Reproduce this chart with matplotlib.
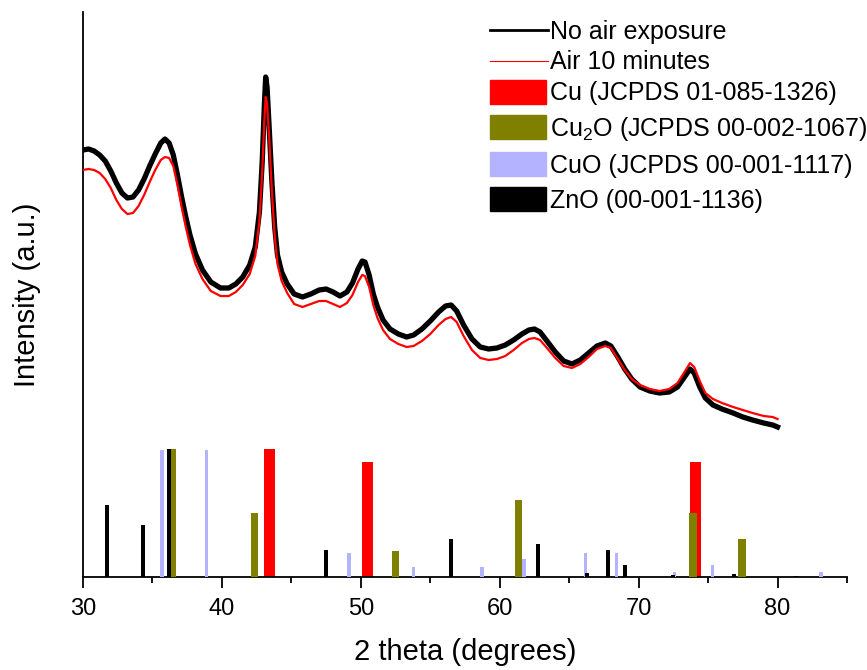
import matplotlib
matplotlib.use("Agg")
import matplotlib.pyplot as plt
from matplotlib.lines import Line2D
from matplotlib.patches import Patch
from matplotlib.ticker import MultipleLocator

plt.rcParams['font.family'] = ['Liberation Sans', 'DejaVu Sans']
plt.rcParams['mathtext.fontset'] = 'custom'
plt.rcParams['mathtext.rm'] = 'Liberation Sans'
plt.rcParams['mathtext.it'] = 'Liberation Sans:italic'
plt.rcParams['mathtext.default'] = 'regular'

# ---- XRD patterns ----
two_theta = [30.0, 30.4, 30.8, 31.2, 31.6, 32.0, 32.4, 32.8, 33.2, 33.6, 34.0, 34.4,
             34.8, 35.2, 35.6, 35.9, 36.2, 36.5, 36.8, 37.1, 37.4, 37.7, 38.1, 38.6,
             39.2, 39.9, 40.5, 41.0, 41.5, 42.0, 42.4, 42.7, 42.9, 43.05, 43.15, 43.25,
             43.4, 43.6, 43.8, 44.0, 44.3, 44.7, 45.2, 45.8, 46.4, 47.0, 47.5, 48.0,
             48.5, 49.0, 49.4, 49.8, 50.1, 50.3, 50.6, 50.9, 51.2, 51.6, 52.1, 52.7,
             53.3, 53.8, 54.4, 55.0, 55.6, 56.1, 56.5, 56.9, 57.4, 58.0, 58.6, 59.2,
             59.8, 60.4, 61.0, 61.6, 62.1, 62.5, 62.9, 63.4, 64.0, 64.6, 65.2, 65.8,
             66.4, 67.0, 67.6, 68.0, 68.5, 69.0, 69.5, 70.1, 70.8, 71.5, 72.2, 72.8,
             73.3, 73.7, 74.0, 74.4, 74.8, 75.35, 76.0, 76.8, 77.5, 78.2, 79.0, 79.65,
             80.0]
no_air = [427, 428, 426, 422, 416, 406, 394, 384, 379, 380, 387, 398,
          411, 423, 434, 438, 434, 422, 402, 380, 360, 342, 323, 307,
          295, 289, 289, 293, 300, 312, 330, 365, 415, 470, 500, 490,
          450, 395, 350, 322, 305, 293, 283, 280, 283, 287, 288, 285,
          281, 285, 294, 308, 316, 315, 302, 283, 270, 257, 248, 243,
          240, 242, 248, 256, 265, 271, 272, 266, 252, 238, 230, 228,
          229, 232, 237, 243, 247, 248, 245, 236, 225, 216, 213, 217,
          224, 231, 234, 231, 220, 208, 198, 190, 186, 184, 185, 190,
          200, 208, 204, 190, 179, 172, 168, 164, 160, 157, 154, 152,
          150]
air_10min = [407, 408, 407, 404, 398, 389, 377, 368, 363, 364, 371, 382,
             395, 407, 417, 420, 419, 411, 392, 370, 350, 332, 313, 298,
             286, 281, 281, 285, 292, 303, 321, 356, 405, 455, 480, 474,
             440, 385, 341, 313, 296, 284, 273, 270, 273, 276, 276, 273,
             270, 274, 282, 295, 302, 301, 290, 272, 259, 247, 238, 233,
             230, 231, 236, 243, 252, 258, 260, 255, 241, 227, 219, 217,
             218, 221, 227, 234, 238, 239, 237, 229, 219, 211, 209, 213,
             220, 228, 231, 229, 218, 207, 198, 192, 188, 186, 188, 194,
             205, 214, 210, 196, 184, 178, 174, 170, 167, 164, 161, 160,
             158]

# ---- Reference patterns (position, relative intensity %) ----
cu_pos = [43.45, 50.45, 74.1]
cu_int = [100, 90, 90]
cu2o_pos = [36.42, 42.35, 52.5, 61.35, 73.91, 77.45]
cu2o_int = [100, 50, 20, 60, 50, 30]
cuo_pos = [35.68, 38.9, 49.16, 53.8, 58.73, 61.75, 66.16, 68.4, 72.6, 75.3, 83.14]
cuo_int = [99, 99, 19, 7.5, 7.5, 14, 19, 19, 4, 9.5, 4]
zno_pos = [31.75, 34.34, 36.2, 47.5, 56.47, 62.76, 66.28, 67.82, 69.0, 72.47, 76.86, 81.3]
zno_int = [56, 41, 100, 21, 30, 26, 3.5, 21, 9.5, 1.5, 2.6, 1.0]

line_labels = ["No air exposure", "Air 10 minutes"]
bar_labels = ["Cu (JCPDS 01-085-1326)", "Cu$_2$O (JCPDS 00-002-1067)",
              "CuO (JCPDS 00-001-1117)", "ZnO (00-001-1136)"]

BAR_SCALE = 1.28
c_red, c_olive, c_cuo, c_zno = "#ff0000", "#808000", "#b3b3ff", "#000000"

fig = plt.figure(figsize=(8.67, 6.70), dpi=100)
ax = fig.add_axes([83/867, 1 - 577/670, (847-83)/867, (577-12)/670])

ax.bar(cu_pos, [v * BAR_SCALE for v in cu_int], width=0.8, color=c_red, zorder=2)
ax.bar(cu2o_pos, [v * BAR_SCALE for v in cu2o_int], width=0.55, color=c_olive, zorder=3)
ax.bar(cuo_pos, [v * BAR_SCALE for v in cuo_int], width=0.25, color=c_cuo, zorder=4)
ax.bar(zno_pos, [v * BAR_SCALE for v in zno_int], width=0.28, color=c_zno, zorder=5)

ax.plot(two_theta, no_air, color="black", lw=3.8, zorder=6, solid_joinstyle='round')
ax.plot(two_theta, air_10min, color="red", lw=1.6, zorder=7)

ax.set_xlim(30, 85)
ax.set_ylim(0, 565)
ax.xaxis.set_major_locator(MultipleLocator(10))
ax.xaxis.set_minor_locator(MultipleLocator(5))
ax.tick_params(axis='x', which='major', direction='out', length=8, width=1.3,
               labelsize=17, pad=7)
ax.tick_params(axis='x', which='minor', direction='out', length=4, width=1.3)
ax.set_yticks([])
for s in ("top", "right"):
    ax.spines[s].set_visible(False)
for s in ("left", "bottom"):
    ax.spines[s].set_linewidth(1.3)

ax.set_xlabel("2 theta (degrees)", fontsize=21, labelpad=13)
ax.set_ylabel("Intensity (a.u.)", fontsize=21, labelpad=30)

line_handles = [Line2D([], [], color="black", lw=2.0),
                Line2D([], [], color="red", lw=0.8)]
bar_handles = [Patch(color=c_red), Patch(color=c_olive), Patch(color=c_cuo), Patch(color=c_zno)]

leg1 = fig.legend(line_handles, line_labels, loc="upper left",
                  bbox_to_anchor=(490/867, 1 - 20/670),
                  frameon=False, fontsize=18, borderpad=0, borderaxespad=0,
                  handlelength=2.3, handletextpad=0.1, labelspacing=0.25)
leg2 = fig.legend(bar_handles, bar_labels, loc="upper left",
                  bbox_to_anchor=(490/867, 1 - 80/670),
                  frameon=False, fontsize=18, borderpad=0, borderaxespad=0,
                  handlelength=2.25, handleheight=1.08, handletextpad=0.15,
                  labelspacing=0.38)

fig.savefig("out.png", dpi=100)
